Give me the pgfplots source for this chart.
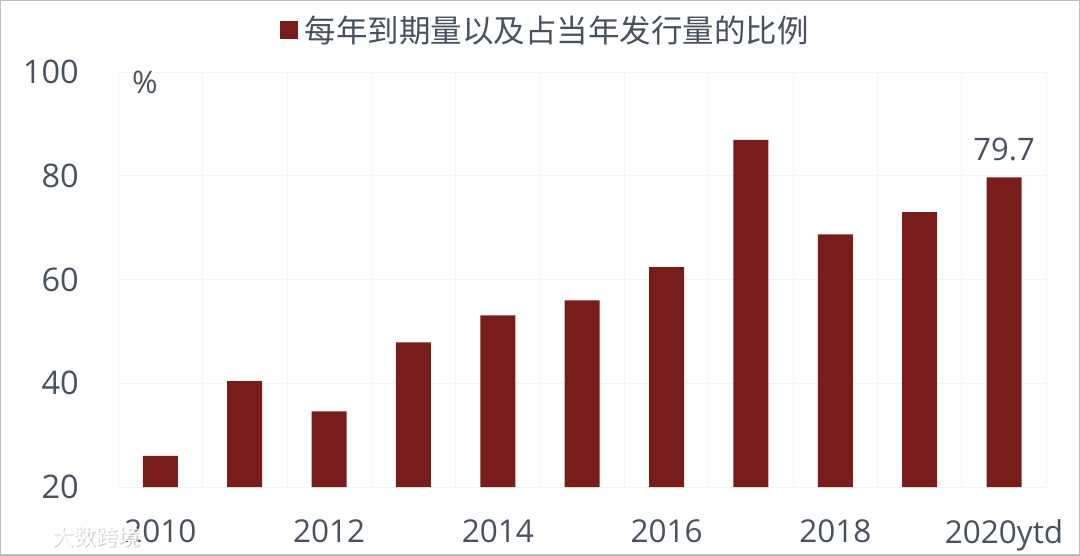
\documentclass[border=0pt]{standalone}
\usepackage{fontspec}
\usepackage{pgfplots}
\pgfplotsset{compat=1.18}
\setmainfont{Open Sans}
\newfontfamily\cjk{Noto Sans CJK SC}
\definecolor{barred}{HTML}{781D19}
\definecolor{txt}{HTML}{48525E}
\definecolor{gridc}{HTML}{F5F5F5}
\definecolor{frame}{HTML}{BEBEBE}
\begin{document}
\begin{tikzpicture}[x=1pt,y=1pt]
\path[use as bounding box] (0,0) rectangle (1080,555);
\begin{axis}[
  at={(118.2pt,68pt)}, anchor=south west,
  scale only axis, width=928pt, height=415pt,
  xmin=-0.5, xmax=10.5, ymin=20, ymax=100,
  ytick={20,40,60,80,100},
  xtick={0,2,4,6,8,10},
  xticklabels={2010,2012,2014,2016,2018,2020ytd},
  minor xtick={-0.5,0.5,1.5,2.5,3.5,4.5,5.5,6.5,7.5,8.5,9.5,10.5},
  xmajorgrids=false, xminorgrids=true, ymajorgrids=true,
  grid style={gridc, line width=0.8pt},
  minor grid style={gridc, line width=0.8pt},
  axis line style={draw=none},
  major tick length=0pt, minor tick length=0pt,
  tick style={draw=none},
  /pgf/number format/assume math mode=true,
  xticklabel style={font=\fontsize{31.5}{31.5}\selectfont, text=txt, yshift=-29pt},
  yticklabel style={font=\fontsize{32.5}{32.5}\selectfont, text=txt, xshift=-36pt},
  legend style={draw=none, fill=none, at={(rel axis cs:0.1744,1.062)}, anchor=south west,
    font=\fontsize{31.5}{31.5}\selectfont\cjk, text=txt, inner sep=0pt, outer sep=0pt},
  legend image code/.code={\fill[barred] (0pt,-9pt) rectangle (18pt,9pt);},
  legend cell align=left,
]
\addplot[ybar, bar width=35pt, fill=barred, draw=none] coordinates {
 (0,26.0) (1,40.4) (2,34.6) (3,47.9) (4,53.1) (5,56.0) (6,62.4) (7,86.9) (8,68.7) (9,73.0) (10,79.7)};
\addlegendentry{\hspace{4.5pt}每年到期量以及占当年发行量的比例}
\node[font=\fontsize{31}{31}\selectfont, text=txt, anchor=south, inner sep=0pt] at (axis cs:10,79.7) [yshift=16pt] {79.7};
\end{axis}
\node[font=\fontsize{31}{31}\selectfont, text=txt, inner sep=0pt] at (145,473) {\%};
\node[font=\fontsize{22}{22}\selectfont\cjk, text=black!18, inner sep=0pt] at (97,17) {大数跨境};
\node[font=\fontsize{22}{22}\selectfont\cjk, text=white, inner sep=0pt] at (96,18) {大数跨境};
\draw[frame, line width=1.5pt] (0,0) rectangle (1080,555);
\end{tikzpicture}
\end{document}
